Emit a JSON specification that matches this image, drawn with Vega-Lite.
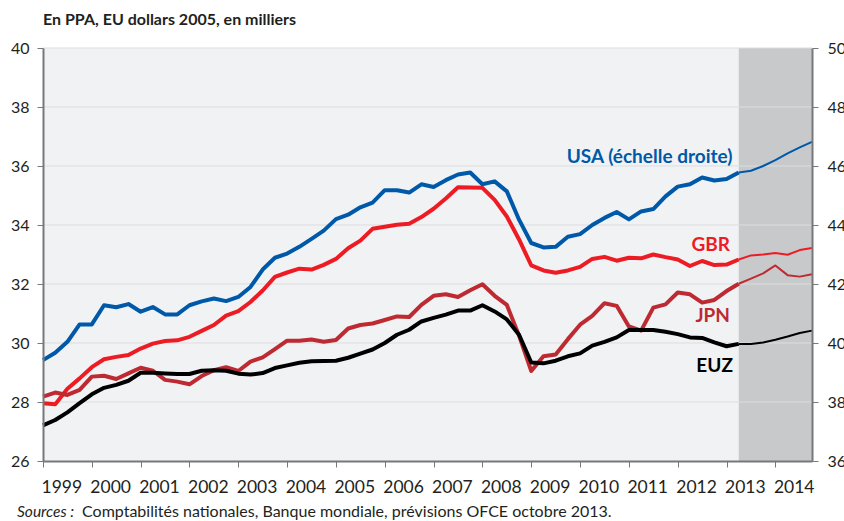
{
  "$schema": "https://vega.github.io/schema/vega-lite/v6.json",
  "width": 769,
  "height": 413,
  "autosize": {"type": "none"},
  "padding": {"left": 43, "top": 48, "right": 32, "bottom": 60},
  "background": "white",
  "config": {"view": {"fill": "#f1f2f4", "stroke": null}, "font": "Lato"},
  "title": {"text": "En PPA, EU dollars 2005, en milliers", "anchor": "start", "frame": "group", "font": "Lato", "fontSize": 16, "fontWeight": "bold", "color": "#231f20", "offset": -1, "dx": 0, "baseline": "alphabetic"},
  "data": {"values": [
    {"t": 1999, "USA": 39.42, "GBR": 27.96, "JPN": 28.18, "EUZ": 27.21, "p": "h"},
    {"t": 1999.25, "USA": 39.67, "GBR": 27.92, "JPN": 28.32, "EUZ": 27.39, "p": "h"},
    {"t": 1999.5, "USA": 40.04, "GBR": 28.45, "JPN": 28.24, "EUZ": 27.65, "p": "h"},
    {"t": 1999.75, "USA": 40.63, "GBR": 28.80, "JPN": 28.41, "EUZ": 27.96, "p": "h"},
    {"t": 2000, "USA": 40.63, "GBR": 29.18, "JPN": 28.86, "EUZ": 28.26, "p": "h"},
    {"t": 2000.25, "USA": 41.28, "GBR": 29.45, "JPN": 28.89, "EUZ": 28.48, "p": "h"},
    {"t": 2000.5, "USA": 41.21, "GBR": 29.53, "JPN": 28.78, "EUZ": 28.58, "p": "h"},
    {"t": 2000.75, "USA": 41.32, "GBR": 29.59, "JPN": 28.97, "EUZ": 28.72, "p": "h"},
    {"t": 2001, "USA": 41.06, "GBR": 29.81, "JPN": 29.16, "EUZ": 28.99, "p": "h"},
    {"t": 2001.25, "USA": 41.22, "GBR": 29.98, "JPN": 29.06, "EUZ": 28.99, "p": "h"},
    {"t": 2001.5, "USA": 40.97, "GBR": 30.07, "JPN": 28.75, "EUZ": 28.97, "p": "h"},
    {"t": 2001.75, "USA": 40.97, "GBR": 30.09, "JPN": 28.69, "EUZ": 28.95, "p": "h"},
    {"t": 2002, "USA": 41.28, "GBR": 30.21, "JPN": 28.60, "EUZ": 28.95, "p": "h"},
    {"t": 2002.25, "USA": 41.41, "GBR": 30.41, "JPN": 28.88, "EUZ": 29.06, "p": "h"},
    {"t": 2002.5, "USA": 41.51, "GBR": 30.61, "JPN": 29.08, "EUZ": 29.08, "p": "h"},
    {"t": 2002.75, "USA": 41.42, "GBR": 30.93, "JPN": 29.18, "EUZ": 29.06, "p": "h"},
    {"t": 2003, "USA": 41.56, "GBR": 31.08, "JPN": 29.05, "EUZ": 28.96, "p": "h"},
    {"t": 2003.25, "USA": 41.90, "GBR": 31.39, "JPN": 29.37, "EUZ": 28.93, "p": "h"},
    {"t": 2003.5, "USA": 42.49, "GBR": 31.78, "JPN": 29.51, "EUZ": 28.98, "p": "h"},
    {"t": 2003.75, "USA": 42.89, "GBR": 32.24, "JPN": 29.79, "EUZ": 29.15, "p": "h"},
    {"t": 2004, "USA": 43.03, "GBR": 32.39, "JPN": 30.08, "EUZ": 29.24, "p": "h"},
    {"t": 2004.25, "USA": 43.26, "GBR": 32.52, "JPN": 30.08, "EUZ": 29.33, "p": "h"},
    {"t": 2004.5, "USA": 43.53, "GBR": 32.49, "JPN": 30.12, "EUZ": 29.38, "p": "h"},
    {"t": 2004.75, "USA": 43.81, "GBR": 32.65, "JPN": 30.04, "EUZ": 29.39, "p": "h"},
    {"t": 2005, "USA": 44.20, "GBR": 32.85, "JPN": 30.10, "EUZ": 29.40, "p": "h"},
    {"t": 2005.25, "USA": 44.35, "GBR": 33.21, "JPN": 30.49, "EUZ": 29.50, "p": "h"},
    {"t": 2005.5, "USA": 44.60, "GBR": 33.47, "JPN": 30.61, "EUZ": 29.64, "p": "h"},
    {"t": 2005.75, "USA": 44.76, "GBR": 33.87, "JPN": 30.66, "EUZ": 29.78, "p": "h"},
    {"t": 2006, "USA": 45.18, "GBR": 33.94, "JPN": 30.78, "EUZ": 30.00, "p": "h"},
    {"t": 2006.25, "USA": 45.18, "GBR": 34.01, "JPN": 30.90, "EUZ": 30.28, "p": "h"},
    {"t": 2006.5, "USA": 45.10, "GBR": 34.04, "JPN": 30.88, "EUZ": 30.45, "p": "h"},
    {"t": 2006.75, "USA": 45.38, "GBR": 34.27, "JPN": 31.29, "EUZ": 30.73, "p": "h"},
    {"t": 2007, "USA": 45.29, "GBR": 34.55, "JPN": 31.60, "EUZ": 30.85, "p": "h"},
    {"t": 2007.25, "USA": 45.52, "GBR": 34.90, "JPN": 31.65, "EUZ": 30.96, "p": "h"},
    {"t": 2007.5, "USA": 45.71, "GBR": 35.28, "JPN": 31.56, "EUZ": 31.10, "p": "h"},
    {"t": 2007.75, "USA": 45.78, "GBR": 35.27, "JPN": 31.79, "EUZ": 31.10, "p": "h"},
    {"t": 2008, "USA": 45.38, "GBR": 35.26, "JPN": 31.99, "EUZ": 31.28, "p": "h"},
    {"t": 2008.25, "USA": 45.48, "GBR": 34.85, "JPN": 31.60, "EUZ": 31.07, "p": "h"},
    {"t": 2008.5, "USA": 45.14, "GBR": 34.29, "JPN": 31.29, "EUZ": 30.80, "p": "h"},
    {"t": 2008.75, "USA": 44.18, "GBR": 33.51, "JPN": 30.25, "EUZ": 30.28, "p": "h"},
    {"t": 2009, "USA": 43.39, "GBR": 32.63, "JPN": 29.05, "EUZ": 29.34, "p": "h"},
    {"t": 2009.25, "USA": 43.24, "GBR": 32.46, "JPN": 29.55, "EUZ": 29.31, "p": "h"},
    {"t": 2009.5, "USA": 43.26, "GBR": 32.38, "JPN": 29.61, "EUZ": 29.40, "p": "h"},
    {"t": 2009.75, "USA": 43.60, "GBR": 32.46, "JPN": 30.13, "EUZ": 29.55, "p": "h"},
    {"t": 2010, "USA": 43.69, "GBR": 32.58, "JPN": 30.62, "EUZ": 29.65, "p": "h"},
    {"t": 2010.25, "USA": 44.00, "GBR": 32.85, "JPN": 30.92, "EUZ": 29.91, "p": "h"},
    {"t": 2010.5, "USA": 44.24, "GBR": 32.92, "JPN": 31.35, "EUZ": 30.04, "p": "h"},
    {"t": 2010.75, "USA": 44.44, "GBR": 32.79, "JPN": 31.26, "EUZ": 30.19, "p": "h"},
    {"t": 2011, "USA": 44.19, "GBR": 32.89, "JPN": 30.56, "EUZ": 30.44, "p": "h"},
    {"t": 2011.25, "USA": 44.46, "GBR": 32.87, "JPN": 30.42, "EUZ": 30.44, "p": "h"},
    {"t": 2011.5, "USA": 44.54, "GBR": 33.00, "JPN": 31.20, "EUZ": 30.44, "p": "h"},
    {"t": 2011.75, "USA": 44.97, "GBR": 32.91, "JPN": 31.31, "EUZ": 30.38, "p": "h"},
    {"t": 2012, "USA": 45.30, "GBR": 32.83, "JPN": 31.71, "EUZ": 30.30, "p": "h"},
    {"t": 2012.25, "USA": 45.38, "GBR": 32.61, "JPN": 31.65, "EUZ": 30.19, "p": "h"},
    {"t": 2012.5, "USA": 45.61, "GBR": 32.78, "JPN": 31.37, "EUZ": 30.17, "p": "h"},
    {"t": 2012.75, "USA": 45.51, "GBR": 32.64, "JPN": 31.46, "EUZ": 30.02, "p": "h"},
    {"t": 2013, "USA": 45.56, "GBR": 32.66, "JPN": 31.76, "EUZ": 29.89, "p": "h"},
    {"t": 2013.25, "USA": 45.78, "GBR": 32.83, "JPN": 32.01, "EUZ": 29.97, "p": "h"},
    {"t": 2013.25, "USA": 45.78, "GBR": 32.83, "JPN": 32.01, "EUZ": 29.97, "p": "f"},
    {"t": 2013.5, "USA": 45.84, "GBR": 32.97, "JPN": 32.18, "EUZ": 29.97, "p": "f"},
    {"t": 2013.75, "USA": 46.00, "GBR": 33.00, "JPN": 32.36, "EUZ": 30.02, "p": "f"},
    {"t": 2014, "USA": 46.20, "GBR": 33.05, "JPN": 32.63, "EUZ": 30.11, "p": "f"},
    {"t": 2014.25, "USA": 46.43, "GBR": 32.99, "JPN": 32.30, "EUZ": 30.22, "p": "f"},
    {"t": 2014.5, "USA": 46.63, "GBR": 33.15, "JPN": 32.25, "EUZ": 30.34, "p": "f"},
    {"t": 2014.75, "USA": 46.82, "GBR": 33.22, "JPN": 32.33, "EUZ": 30.42, "p": "f"}
  ]},
  "layer": [
    {
      "encoding": {
        "x": {"field": "t", "type": "quantitative", "scale": {"domain": [1999, 2014.75], "nice": false, "zero": false},
          "axis": {"values": [1999, 2000, 2001, 2002, 2003, 2004, 2005, 2006, 2007, 2008, 2009, 2010, 2011, 2012, 2013, 2014], "format": "d", "title": null, "grid": false, "labelAlign": "left", "labelOffset": -2, "labelFlush": false, "labelOverlap": false, "labelBound": false, "tickSize": 6, "tickColor": "#77787b", "domainColor": "#77787b", "domainWidth": 2, "labelPadding": 11, "labelFontSize": 17.5, "labelFont": "Lato", "labelColor": "#231f20", "zindex": 1}},
        "y": {"field": "v", "type": "quantitative", "scale": {"domain": [26, 40], "nice": false, "zero": false},
          "axis": {"orient": "left", "values": [26, 28, 30, 32, 34, 36, 38, 40], "title": null, "grid": false, "tickSize": 6, "tickColor": "#77787b", "domainColor": "#77787b", "domainWidth": 2, "labelFontSize": 16, "labelFont": "Lato", "labelColor": "#231f20", "labelPadding": 8, "labelFlush": false, "zindex": 1}}
      },
      "layer": [
        {
          "data": {"values": [{"t": 2013.25, "t2": 2014.75, "v": 26, "v2": 40}]},
          "mark": {"type": "rect", "color": "#c8c9cb"},
          "encoding": {"x2": {"field": "t2"}, "y2": {"field": "v2"}}
        },
        {
          "data": {"values": [
            {"t": 1999, "t2": 2014.75, "v": 28}, {"t": 1999, "t2": 2014.75, "v": 30},
            {"t": 1999, "t2": 2014.75, "v": 32}, {"t": 1999, "t2": 2014.75, "v": 34},
            {"t": 1999, "t2": 2014.75, "v": 36}, {"t": 1999, "t2": 2014.75, "v": 38},
            {"t": 1999, "t2": 2014.75, "v": 40}
          ]},
          "mark": {"type": "rule", "color": "#dcdde0", "strokeWidth": 1},
          "encoding": {"x2": {"field": "t2"}}
        },
        {
          "transform": [{"fold": ["GBR", "JPN", "EUZ"], "as": ["s", "v"]}],
          "mark": {"type": "line", "strokeJoin": "round"},
          "encoding": {
            "color": {"field": "s", "type": "nominal", "scale": {"domain": ["GBR", "JPN", "EUZ", "USA"], "range": ["#ed1c24", "#be2a32", "#000000", "#0059a8"]}, "legend": null},
            "strokeWidth": {"field": "p", "type": "nominal", "scale": {"domain": ["h", "f"], "range": [4, 2]}, "legend": null},
            "order": {"field": "t", "type": "quantitative"}
          }
        },
        {
          "data": {"values": [
            {"lab": "USA (échelle droite)", "t": 2013.12, "v": 36.09, "s": "USA"},
            {"lab": "GBR", "t": 2013.07, "v": 33.12, "s": "GBR"},
            {"lab": "JPN", "t": 2013.07, "v": 30.71, "s": "JPN"},
            {"lab": "EUZ", "t": 2013.13, "v": 29.02, "s": "EUZ"}
          ]},
          "mark": {"type": "text", "align": "right", "baseline": "alphabetic", "font": "Lato", "fontSize": 19, "fontWeight": "bold"},
          "encoding": {
            "text": {"field": "lab"},
            "color": {"field": "s", "type": "nominal", "scale": {"domain": ["GBR", "JPN", "EUZ", "USA"], "range": ["#ed1c24", "#be2a32", "#000000", "#0059a8"]}, "legend": null}
          }
        },
        {
          "data": {"values": [{"lab": "Sources :", "t": 1998.468, "v": 24.09}]},
          "mark": {"type": "text", "align": "left", "baseline": "alphabetic", "font": "Lato", "fontSize": 15.5, "fontStyle": "italic", "color": "#231f20"},
          "encoding": {"text": {"field": "lab"}}
        },
        {
          "data": {"values": [{"lab": "Comptabilités nationales, Banque mondiale, prévisions OFCE octobre 2013.", "t": 1999.8, "v": 24.09}]},
          "mark": {"type": "text", "align": "left", "baseline": "alphabetic", "font": "Lato", "fontSize": 16, "color": "#231f20"},
          "encoding": {"text": {"field": "lab"}}
        }
      ]
    },
    {
      "mark": {"type": "line", "color": "#0059a8", "strokeJoin": "round"},
      "encoding": {
        "x": {"field": "t", "type": "quantitative", "scale": {"domain": [1999, 2014.75], "nice": false, "zero": false},
          "axis": {"values": [1999, 2000, 2001, 2002, 2003, 2004, 2005, 2006, 2007, 2008, 2009, 2010, 2011, 2012, 2013, 2014], "format": "d", "title": null, "grid": false, "labelAlign": "left", "labelOffset": -2, "labelFlush": false, "labelOverlap": false, "labelBound": false, "tickSize": 6, "tickColor": "#77787b", "domainColor": "#77787b", "domainWidth": 2, "labelPadding": 11, "labelFontSize": 17.5, "labelFont": "Lato", "labelColor": "#231f20", "zindex": 1}},
        "y": {"field": "USA", "type": "quantitative", "scale": {"domain": [36, 50], "nice": false, "zero": false},
          "axis": {"orient": "right", "values": [36, 38, 40, 42, 44, 46, 48, 50], "title": null, "grid": false, "tickSize": 6, "tickColor": "#77787b", "domainColor": "#77787b", "domainWidth": 2, "labelFontSize": 16, "labelFont": "Lato", "labelColor": "#231f20", "labelPadding": 9, "labelFlush": false, "zindex": 1}},
        "strokeWidth": {"field": "p", "type": "nominal", "scale": {"domain": ["h", "f"], "range": [4, 2]}, "legend": null},
        "order": {"field": "t", "type": "quantitative"}
      }
    }
  ],
  "resolve": {"scale": {"y": "independent"}}
}
